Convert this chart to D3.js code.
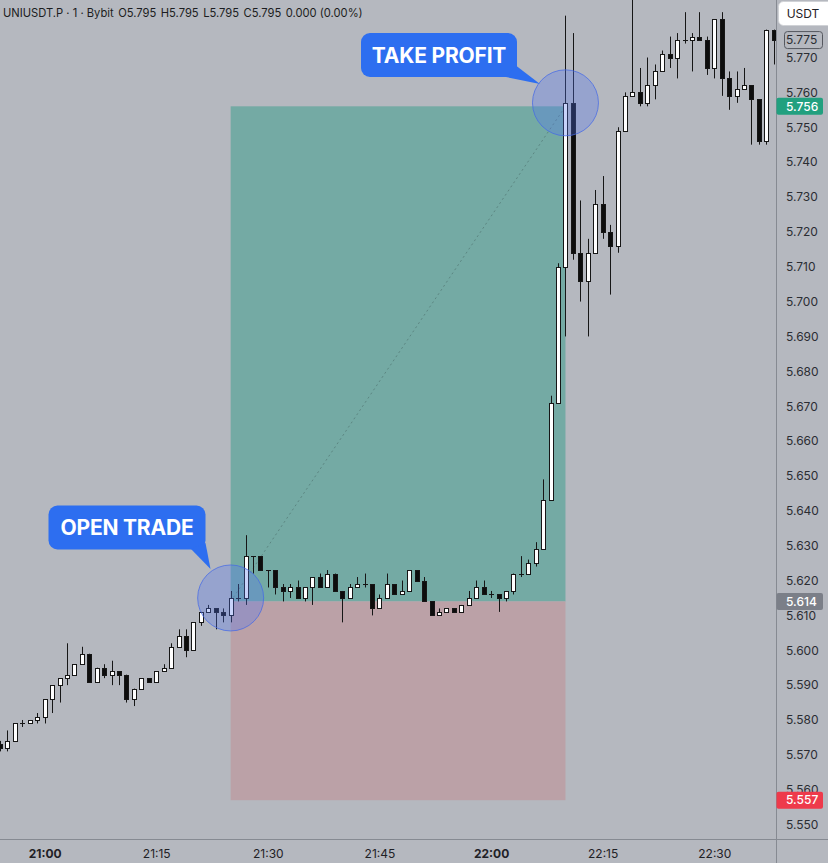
<!DOCTYPE html>
<html>
<head>
<meta charset="utf-8">
<style>
  html, body { margin: 0; padding: 0; background: #b5b8bf; }
  svg { display: block; font-family: Inter, "Noto Sans", sans-serif; }
</style>
</head>
<body>

<script src="https://d3js.org/d3.v7.min.js"></script>

<script>

const width = 828;
const height = 863;
const plotRight = 776;
const plotBottom = 839;

// 1 minute bars, UNIUSDT.P, first bar 20:54
const firstBar = new Date(2024, 4, 1, 20, 54);

const open = [
  5.573, 5.572, 5.574, 5.579, 5.579, 5.580, 5.581, 5.586, 5.590, 5.592,
  5.593, 5.596, 5.599, 5.591, 5.595, 5.593, 5.594, 5.593, 5.586, 5.589,
  5.592, 5.591, 5.594, 5.595, 5.601, 5.604, 5.600, 5.608, 5.611, 5.612,
  5.611, 5.610, 5.615, 5.615, 5.627, 5.627, 5.623, 5.623, 5.618, 5.617,
  5.618, 5.615, 5.618, 5.621, 5.618, 5.622, 5.617, 5.615, 5.618, 5.619,
  5.619, 5.612, 5.615, 5.619, 5.616, 5.617, 5.623, 5.620, 5.614, 5.610,
  5.611, 5.612, 5.611, 5.613, 5.615, 5.618, 5.616, 5.616, 5.615, 5.617,
  5.622, 5.622, 5.625, 5.629, 5.643, 5.671, 5.710, 5.757, 5.714, 5.706,
  5.714, 5.728, 5.720, 5.716, 5.749, 5.759, 5.760, 5.757, 5.762, 5.766,
  5.771, 5.770, 5.775, 5.775, 5.776, 5.775, 5.767, 5.781, 5.764, 5.759,
  5.761, 5.762, 5.758, 5.746, 5.778
];

const high = [
  5.574, 5.577, 5.579, 5.580, 5.580, 5.582, 5.586, 5.590, 5.592, 5.602,
  5.596, 5.601, 5.599, 5.595, 5.596, 5.597, 5.594, 5.593, 5.589, 5.592,
  5.592, 5.594, 5.596, 5.602, 5.606, 5.606, 5.608, 5.611, 5.613, 5.612,
  5.612, 5.617, 5.619, 5.633, 5.627, 5.627, 5.623, 5.623, 5.619, 5.619,
  5.620, 5.618, 5.621, 5.622, 5.623, 5.622, 5.617, 5.619, 5.621, 5.622,
  5.619, 5.616, 5.622, 5.619, 5.620, 5.623, 5.623, 5.621, 5.614, 5.612,
  5.612, 5.612, 5.613, 5.617, 5.620, 5.620, 5.617, 5.616, 5.617, 5.622,
  5.627, 5.626, 5.631, 5.649, 5.673, 5.711, 5.782, 5.777, 5.729, 5.718,
  5.732, 5.736, 5.722, 5.750, 5.760, 5.790, 5.767, 5.770, 5.768, 5.772,
  5.776, 5.777, 5.783, 5.777, 5.783, 5.776, 5.781, 5.783, 5.766, 5.766,
  5.767, 5.762, 5.758, 5.778, 5.778
];

const low = [
  5.571, 5.571, 5.574, 5.578, 5.579, 5.579, 5.579, 5.582, 5.585, 5.590,
  5.593, 5.596, 5.591, 5.591, 5.592, 5.590, 5.590, 5.585, 5.584, 5.589,
  5.591, 5.591, 5.594, 5.595, 5.601, 5.598, 5.600, 5.607, 5.611, 5.606,
  5.608, 5.608, 5.614, 5.613, 5.622, 5.623, 5.618, 5.616, 5.614, 5.615,
  5.615, 5.614, 5.613, 5.618, 5.618, 5.617, 5.608, 5.615, 5.618, 5.618,
  5.610, 5.612, 5.615, 5.616, 5.616, 5.617, 5.620, 5.614, 5.610, 5.610,
  5.611, 5.611, 5.611, 5.613, 5.615, 5.616, 5.615, 5.611, 5.614, 5.616,
  5.621, 5.622, 5.624, 5.629, 5.643, 5.671, 5.690, 5.712, 5.700, 5.690,
  5.714, 5.718, 5.702, 5.714, 5.749, 5.759, 5.756, 5.756, 5.758, 5.766,
  5.767, 5.764, 5.774, 5.766, 5.775, 5.765, 5.764, 5.759, 5.755, 5.757,
  5.761, 5.745, 5.745, 5.745, 5.768
];

const close = [
  5.572, 5.574, 5.579, 5.579, 5.580, 5.581, 5.586, 5.590, 5.592, 5.593,
  5.596, 5.599, 5.591, 5.595, 5.593, 5.594, 5.593, 5.586, 5.589, 5.592,
  5.591, 5.594, 5.595, 5.601, 5.604, 5.600, 5.608, 5.611, 5.612, 5.611,
  5.610, 5.615, 5.615, 5.627, 5.627, 5.623, 5.623, 5.618, 5.617, 5.618,
  5.615, 5.618, 5.621, 5.618, 5.622, 5.617, 5.615, 5.618, 5.619, 5.619,
  5.612, 5.615, 5.619, 5.616, 5.617, 5.623, 5.620, 5.614, 5.610, 5.611,
  5.612, 5.611, 5.613, 5.615, 5.618, 5.616, 5.616, 5.615, 5.617, 5.622,
  5.622, 5.625, 5.629, 5.643, 5.671, 5.710, 5.757, 5.714, 5.706, 5.714,
  5.728, 5.720, 5.716, 5.749, 5.759, 5.760, 5.757, 5.762, 5.766, 5.771,
  5.770, 5.775, 5.775, 5.776, 5.775, 5.767, 5.781, 5.764, 5.759, 5.761,
  5.762, 5.758, 5.746, 5.778, 5.775
];

const priceTicks = [5.550, 5.560, 5.570, 5.580, 5.590, 5.600, 5.610, 5.620,
  5.630, 5.640, 5.650, 5.660, 5.670, 5.680, 5.690, 5.700, 5.710, 5.720,
  5.730, 5.740, 5.750, 5.760, 5.770];
const timeTicks = ['21:00', '21:15', '21:30', '21:45', '22:00', '22:15', '22:30'];

// long position tool
const entryPrice = 5.614;
const takeProfit = 5.756;
const stopLoss = 5.557;
const entryBar = 31;   // 21:25
const exitBar = 76;    // 22:10
const lastPrice = 5.775;

const headerParts = ['UNIUSDT.P · 1 · Bybit', 'O5.795', 'H5.795', 'L5.795', 'C5.795', '0.000 (0.00%)'];

const bars = open.map((o, i) => ({
  t: d3.timeMinute.offset(firstBar, i),
  o: o, h: high[i], l: low[i], c: close[i]
}));

const x = d3.scaleTime()
  .domain([bars[0].t, bars[bars.length - 1].t])
  .range([0, 773.8]);

const y = d3.scaleLinear()
  .domain([5.550, 5.770])
  .range([824.6, 57.5]);

const svg = d3.select('body')
  .append('svg')
  .attr('width', width)
  .attr('height', height);

svg.append('rect')
  .attr('width', width)
  .attr('height', height)
  .attr('fill', '#b5b8bf');

svg.append('clipPath').attr('id', 'plot')
  .append('rect')
  .attr('width', plotRight)
  .attr('height', plotBottom);

const plot = svg.append('g').attr('clip-path', 'url(#plot)');

// trade zones
const x0 = x(bars[entryBar].t);
const x1 = x(bars[exitBar].t);

plot.append('rect')
  .attr('x', x0).attr('width', x1 - x0)
  .attr('y', y(takeProfit)).attr('height', y(entryPrice) - y(takeProfit))
  .attr('fill', '#74aaa4');

plot.append('rect')
  .attr('x', x0).attr('width', x1 - x0)
  .attr('y', y(entryPrice)).attr('height', y(stopLoss) - y(entryPrice))
  .attr('fill', '#bba1a7');

plot.append('line')
  .attr('x1', x0).attr('y1', y(entryPrice))
  .attr('x2', x1).attr('y2', y(takeProfit))
  .attr('stroke', '#4d6f6c')
  .attr('stroke-width', 1)
  .attr('stroke-dasharray', '2,3')
  .attr('opacity', 0.6);

// candles
const candle = plot.selectAll('g.candle')
  .data(bars)
  .enter()
  .append('g')
    .attr('class', 'candle')
    .attr('transform', d => `translate(${Math.round(x(d.t)) + 0.5},0)`);

candle.append('line')
  .attr('y1', d => y(d.h))
  .attr('y2', d => y(d.l))
  .attr('stroke', '#161616');

candle.append('rect')
  .attr('x', -2)
  .attr('width', 4)
  .attr('y', d => Math.round(y(Math.max(d.o, d.c))) + 0.5)
  .attr('height', d => Math.max(0.01, Math.round(y(Math.min(d.o, d.c))) - Math.round(y(Math.max(d.o, d.c)))))
  .attr('fill', d => d.c >= d.o ? '#ffffff' : '#0d0d0d')
  .attr('stroke', '#161616');

// highlight circles
[entryBar, exitBar].forEach(i => {
  plot.append('circle')
    .attr('cx', x(bars[i].t))
    .attr('cy', y(bars[i].c))
    .attr('r', 33)
    .attr('fill', 'rgba(84, 118, 240, 0.32)')
    .attr('stroke', 'rgba(70, 105, 230, 0.75)')
    .attr('stroke-width', 1);
});

// callouts
function callout(bx, by, w, h, tail, label) {
  const g = svg.append('g');
  g.append('rect')
    .attr('x', bx).attr('y', by)
    .attr('width', w).attr('height', h)
    .attr('rx', 9)
    .attr('fill', '#2d6ef0');
  g.append('path')
    .attr('d', 'M' + tail.map(p => p.join(',')).join('L') + 'Z')
    .attr('fill', '#2d6ef0');
  g.append('text')
    .attr('x', bx + w / 2)
    .attr('y', by + h / 2 + 7.5)
    .attr('text-anchor', 'middle')
    .attr('fill', '#ffffff')
    .attr('font-size', 21)
    .attr('font-weight', 700)
    .attr('letter-spacing', -0.2)
    .text(label);
}

callout(48.5, 505.5, 157, 44, [[191, 549], [205.5, 543], [210.5, 569]], 'OPEN TRADE');
callout(361, 33, 156, 44, [[506, 77], [516.5, 66], [540, 84]], 'TAKE PROFIT');

// separators
svg.append('line')
  .attr('x1', plotRight + 0.5).attr('x2', plotRight + 0.5)
  .attr('y1', 0).attr('y2', height)
  .attr('stroke', '#868a92');
svg.append('line')
  .attr('x1', 0).attr('x2', width)
  .attr('y1', plotBottom + 0.5).attr('y2', plotBottom + 0.5)
  .attr('stroke', '#868a92');

// price axis
const yAxis = svg.append('g')
  .attr('transform', `translate(${plotRight},0)`)
  .call(d3.axisRight(y).tickValues(priceTicks).tickSize(0).tickPadding(10).tickFormat(d3.format('.3f')));
yAxis.select('.domain').remove();
yAxis.selectAll('text')
  .attr('font-family', 'Inter, sans-serif')
  .attr('font-size', 12)
  .attr('fill', '#2b2d33');

// time axis
const hourFmt = d3.timeFormat('%H:%M');
const parseHM = d3.timeParse('%H:%M');
const timeVals = timeTicks.map(s => {
  const p = parseHM(s);
  return new Date(2024, 4, 1, p.getHours(), p.getMinutes());
});
const xAxis = svg.append('g')
  .attr('transform', `translate(0,${plotBottom})`)
  .call(d3.axisBottom(x).tickValues(timeVals).tickSize(0).tickPadding(10).tickFormat(hourFmt));
xAxis.select('.domain').remove();
xAxis.selectAll('text')
  .attr('font-family', 'Inter, sans-serif')
  .attr('font-size', 12)
  .attr('font-weight', d => d.getMinutes() === 0 ? 700 : 400)
  .attr('fill', '#1f2126');

// price labels on the axis
function priceTag(price, fill) {
  const g = svg.append('g').attr('transform', `translate(${plotRight},${y(price)})`);
  g.append('rect')
    .attr('x', 0.5).attr('y', -8.5)
    .attr('width', 46.5).attr('height', 17)
    .attr('rx', 2)
    .attr('fill', fill);
  g.append('text')
    .attr('x', 10).attr('dy', '0.35em')
    .attr('font-size', 12)
    .attr('font-weight', 500)
    .attr('fill', '#ffffff')
    .text(d3.format('.3f')(price));
}
priceTag(takeProfit, '#21a07f');
priceTag(entryPrice, '#7b7f88');
priceTag(stopLoss, '#ee3a4b');

// last price box
const last = svg.append('g').attr('transform', `translate(${plotRight},${y(lastPrice)})`);
last.append('rect')
  .attr('x', 8.5).attr('y', -8.5)
  .attr('width', 38).attr('height', 17)
  .attr('rx', 3)
  .attr('fill', '#b5b8bf')
  .attr('stroke', '#55585f');
last.append('text')
  .attr('x', 10).attr('dy', '0.35em')
  .attr('font-size', 12)
  .attr('fill', '#2b2d33')
  .text(d3.format('.3f')(lastPrice));

// currency button
svg.append('rect')
  .attr('x', 778.5).attr('y', 1.5)
  .attr('width', 54).attr('height', 24)
  .attr('rx', 5)
  .attr('fill', '#ffffff')
  .attr('stroke', '#d0d2d6');
svg.append('text')
  .attr('x', 803).attr('y', 17.5)
  .attr('text-anchor', 'middle')
  .attr('font-size', 12)
  .attr('fill', '#1f2126')
  .text('USDT');

// header legend
const header = svg.append('text')
  .attr('x', 3).attr('y', 16.5)
  .attr('font-size', 11.2)
  .attr('fill', '#1c1d21');
header.selectAll('tspan')
  .data(headerParts)
  .enter()
  .append('tspan')
    .attr('dx', (d, i) => i === 0 ? 0 : 4.5)
    .text(d => d);

</script>
</body>
</html>
